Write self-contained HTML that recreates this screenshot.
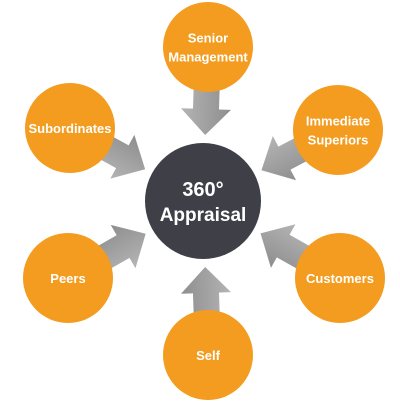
<!DOCTYPE html>
<html><head><meta charset="utf-8"><style>
html,body{margin:0;padding:0;background:#fff;}
svg{display:block;font-family:"Liberation Sans",Arial,sans-serif;}
</style></head><body>
<svg width="400" height="408" viewBox="0 0 400 408">
<defs>
<linearGradient id="ag" x1="0" y1="0" x2="0" y2="1"><stop offset="0" stop-color="#b4b4b4"/><stop offset="1" stop-color="#8e8e8e"/></linearGradient>
</defs>
<g id="arrows"></g>
<g>
<circle cx="203" cy="201" r="58" fill="#3f3f48"/>
<text x="203" y="196" text-anchor="middle" fill="#fff" font-size="20" font-weight="bold">360°</text>
<text x="203" y="221" text-anchor="middle" fill="#fff" font-size="19" font-weight="bold">Appraisal</text>
</g>
<g id="nodes"></g>
</svg>
<script>
const cx=203, cy=201;
const labels=[["Senior","Management"],["Immediate","Superiors"],["Customers"],["Self"],["Peers"],["Subordinates"]];
const nodeX=[208,338,340,208,68,70];
const nodeY=[47,130,278,355,278,128];
const names=["senior-management","immediate-superiors","customers","self","peers","subordinates"];
const ns="http://www.w3.org/2000/svg";
const ag=document.getElementById('arrows'), ng=document.getElementById('nodes');
for(let i=0;i<labels.length;i++){
  const dx=nodeX[i]-cx, dy=nodeY[i]-cy;
  const ang=Math.atan2(dy,dx)*180/Math.PI;
  const p=document.createElementNS(ns,'polygon');
  p.setAttribute('points','66,0 92,-25 92,-13 120,-13 120,13 92,13 92,25');
  p.setAttribute('fill','url(#ag)');
  p.setAttribute('transform',`translate(${cx},${cy}) rotate(${ang})`);
  
  
  ag.appendChild(p);
  const g=document.createElementNS(ns,'g');
  
  
  const c=document.createElementNS(ns,'circle');
  c.setAttribute('cx',nodeX[i]);c.setAttribute('cy',nodeY[i]);c.setAttribute('r',45);c.setAttribute('fill','#f39c1f');
  g.appendChild(c);
  const L=labels[i];
  L.forEach((t,j)=>{
    const tx=document.createElementNS(ns,'text');
    tx.setAttribute('x',nodeX[i]);
    tx.setAttribute('y',nodeY[i]+5+(j-(L.length-1)/2)*19);
    tx.setAttribute('text-anchor','middle');tx.setAttribute('fill','#fff');
    tx.setAttribute('font-size','13');tx.setAttribute('font-weight','bold');
    tx.textContent=t;
    g.appendChild(tx);
  });
  ng.appendChild(g);
}
</script>
</body></html>
